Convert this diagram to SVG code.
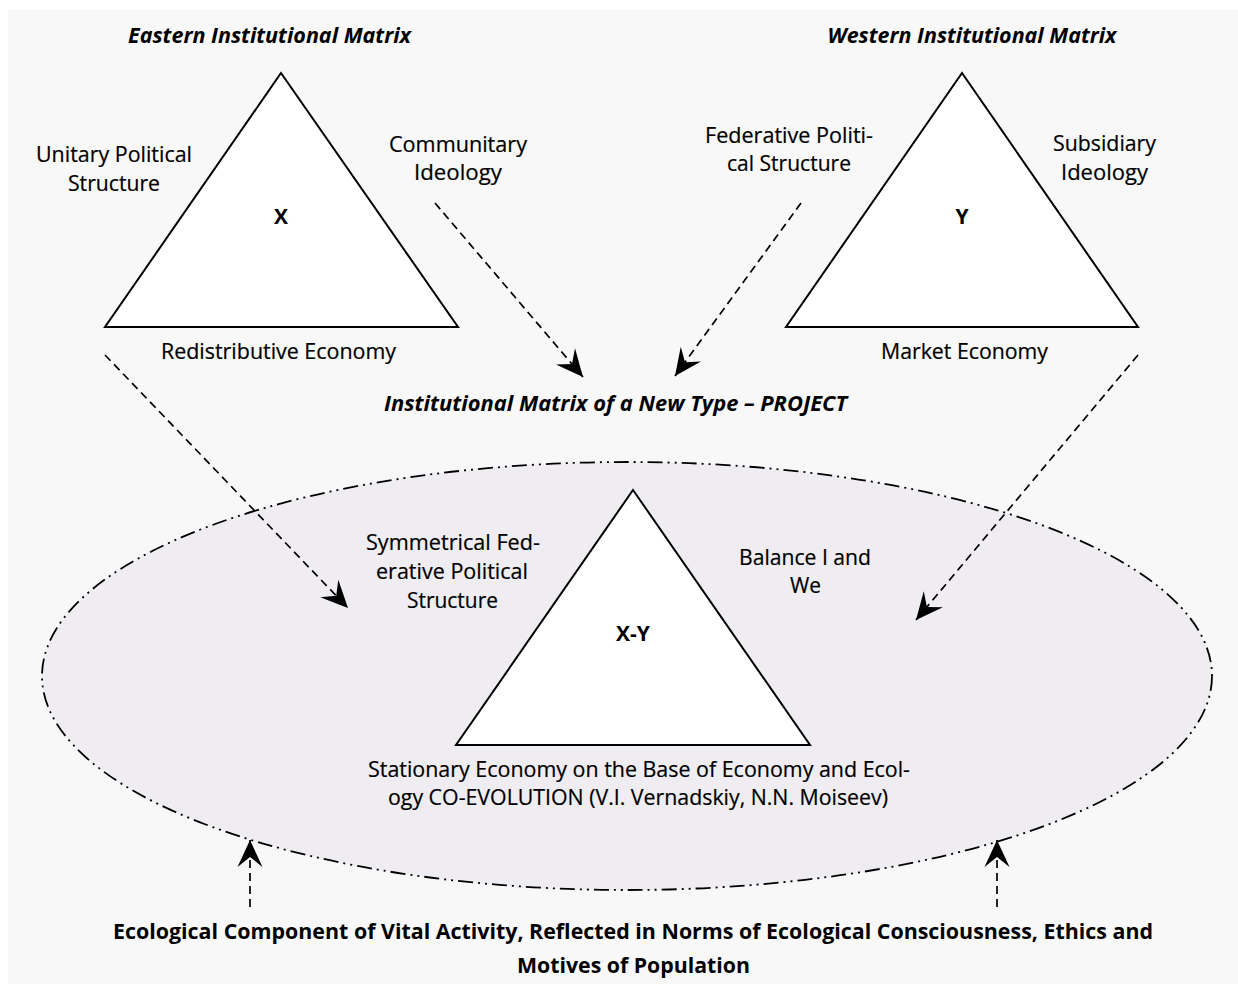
<svg xmlns="http://www.w3.org/2000/svg" width="1238" height="984" viewBox="0 0 1238 984">
<style>
.t{font-family:"Open Sans","Noto Sans",sans-serif;font-size:21px;fill:#000;text-anchor:middle;stroke:#000;stroke-width:0.2}
.bi{font-weight:bold;font-style:italic;stroke-width:0}
.b{font-weight:bold;stroke-width:0}
.tri{fill:#fff;stroke:#000;stroke-width:2;stroke-linejoin:miter}
.arr{fill:none;stroke:#000;stroke-width:1.7;stroke-dasharray:8 5;marker-end:url(#head)}
.ell{fill:#efedf2;stroke:#000;stroke-width:1.8;stroke-dasharray:15 5 2 5 2 5}
</style>
<defs>
<marker id="head" viewBox="-30 -15 32 30" refX="0" refY="0" markerWidth="32" markerHeight="30" markerUnits="userSpaceOnUse" orient="auto">
<path d="M0,0 L-27,-12.5 L-17,0 L-27,12.5 Z" fill="#000" stroke="none"/>
</marker>
</defs>
<rect x="0" y="0" width="1238" height="984" fill="#fff"/>
<rect x="8" y="10" width="1230" height="974" fill="#f8f8f8"/>

<g id="ellipse-zone">
<ellipse class="ell" cx="627" cy="676" rx="585" ry="214"/>
</g>

<g id="eastern">
<text class="t bi" x="269.5" y="43" textLength="283" lengthAdjust="spacingAndGlyphs">Eastern Institutional Matrix</text>
<polygon class="tri" points="281,73 458,327 105,327"/>
<text class="t b" x="281" y="224">X</text>
<text class="t" x="114" y="162" textLength="156" lengthAdjust="spacingAndGlyphs">Unitary Political</text>
<text class="t" x="114" y="191" textLength="92" lengthAdjust="spacingAndGlyphs">Structure</text>
<text class="t" x="458" y="152" textLength="138" lengthAdjust="spacingAndGlyphs">Communitary</text>
<text class="t" x="458" y="180" textLength="88" lengthAdjust="spacingAndGlyphs">Ideology</text>
<text class="t" x="278.5" y="359" textLength="235" lengthAdjust="spacingAndGlyphs">Redistributive Economy</text>
</g>

<g id="western">
<text class="t bi" x="972" y="43" textLength="289" lengthAdjust="spacingAndGlyphs">Western Institutional Matrix</text>
<polygon class="tri" points="962,73 1138,327 786,327"/>
<text class="t b" x="962" y="224">Y</text>
<text class="t" x="789" y="143" textLength="168" lengthAdjust="spacingAndGlyphs">Federative Politi-</text>
<text class="t" x="789" y="171" textLength="124" lengthAdjust="spacingAndGlyphs">cal Structure</text>
<text class="t" x="1104.5" y="151" textLength="103" lengthAdjust="spacingAndGlyphs">Subsidiary</text>
<text class="t" x="1104.5" y="180" textLength="87" lengthAdjust="spacingAndGlyphs">Ideology</text>
<text class="t" x="964.5" y="359" textLength="167" lengthAdjust="spacingAndGlyphs">Market Economy</text>
</g>

<g id="project-title">
<text class="t bi" x="615.5" y="411" textLength="463" lengthAdjust="spacingAndGlyphs">Institutional Matrix of a New Type – PROJECT</text>
</g>

<g id="new-matrix">
<polygon class="tri" points="633,490 810,745 456,745"/>
<text class="t b" x="633" y="641">X-Y</text>
<text class="t" x="453" y="550" textLength="174" lengthAdjust="spacingAndGlyphs">Symmetrical Fed-</text>
<text class="t" x="452" y="579" textLength="152" lengthAdjust="spacingAndGlyphs">erative Political</text>
<text class="t" x="452.5" y="608" textLength="91" lengthAdjust="spacingAndGlyphs">Structure</text>
<text class="t" x="805" y="565" textLength="132" lengthAdjust="spacingAndGlyphs">Balance I and</text>
<text class="t" x="805.5" y="593" textLength="31" lengthAdjust="spacingAndGlyphs">We</text>
<text class="t" x="639" y="777" textLength="542" lengthAdjust="spacingAndGlyphs">Stationary Economy on the Base of Economy and Ecol-</text>
<text class="t" x="638" y="805" textLength="500" lengthAdjust="spacingAndGlyphs">ogy CO-EVOLUTION (V.I. Vernadskiy, N.N. Moiseev)</text>
</g>

<g id="ecological">
<text class="t b" x="633" y="939" textLength="1040" lengthAdjust="spacingAndGlyphs">Ecological Component of Vital Activity, Reflected in Norms of Ecological Consciousness, Ethics and</text>
<text class="t b" x="633.5" y="973" textLength="233" lengthAdjust="spacingAndGlyphs">Motives of Population</text>
</g>

<g id="connectors">
<line class="arr" x1="435" y1="203" x2="583" y2="377"/>
<line class="arr" x1="801" y1="203" x2="675" y2="376"/>
<line class="arr" x1="105" y1="355" x2="348" y2="608"/>
<line class="arr" x1="1138" y1="355" x2="916" y2="620"/>
<line class="arr" x1="250" y1="907" x2="250" y2="840"/>
<line class="arr" x1="997" y1="907" x2="997" y2="840"/>
</g>
</svg>
